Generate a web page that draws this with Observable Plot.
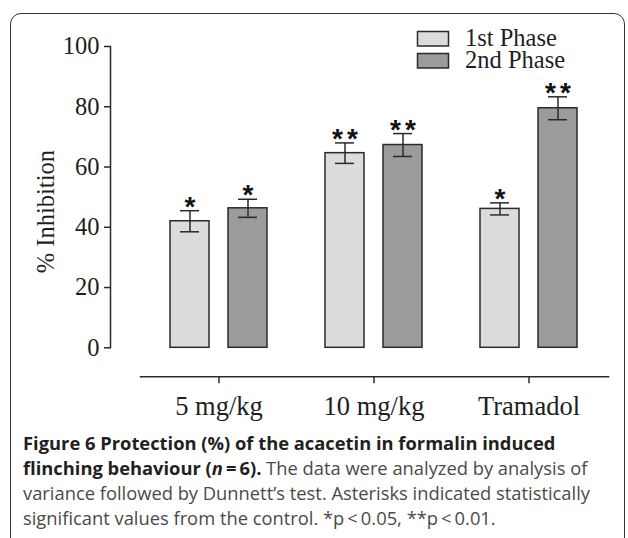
<!DOCTYPE html>
<html><head><meta charset="utf-8">
<script src="https://cdn.jsdelivr.net/npm/d3@7"></script>
<script src="https://cdn.jsdelivr.net/npm/@observablehq/plot@0.6"></script>
<style>
body{margin:0;background:#fff;width:628px;height:538px;overflow:hidden;position:relative;}
#frame{position:absolute;left:10px;top:12.5px;width:615px;height:600px;border:1.5px solid #333;border-radius:11px;box-sizing:border-box;}
#chart{position:absolute;left:0;top:0;}
#legend{position:absolute;left:0;top:0;}
#caption{position:absolute;left:23px;top:430px;font-family:"Open Sans";font-size:15.5px;line-height:25px;color:#4a4a4a;white-space:nowrap;}
#caption b{color:#231f20;font-weight:700;}
</style></head>
<body>
<div id="frame"></div>
<div id="chart"></div>
<div id="caption">
<div class="ln"><b>Figure 6 Protection (%) of the acacetin in formalin induced</b></div>
<div class="ln"><b>flinching behaviour (<i>n</i>&#8201;=&#8201;6).</b> The data were analyzed by analysis of</div>
<div class="ln" id="l3">variance followed by Dunnett’s test. Asterisks indicated statistically</div>
<div class="ln">significant values from the control. *p&#8201;&lt;&#8201;0.05, **p&#8201;&lt;&#8201;0.01.</div>
</div>
<script>
const groups = ["5 mg/kg", "10 mg/kg", "Tramadol"];
const phases = ["1st Phase", "2nd Phase"];
const phase1Mean = [42.0, 64.6, 46.1];
const phase1Err = [3.5, 3.4, 2.0];
const phase1Sig = ["*", "**", "*"];
const phase2Mean = [46.3, 67.3, 79.5];
const phase2Err = [3.0, 3.8, 3.8];
const phase2Sig = ["*", "**", "**"];
const yTicks = [0, 20, 40, 60, 80, 100];
const colors = ["#dcdcdc", "#9b9b9b"];

const rows1 = groups.map((g, i) => ({group: g, phase: phases[0], mean: phase1Mean[i], lo: phase1Mean[i] - phase1Err[i], hi: phase1Mean[i] + phase1Err[i], sig: phase1Sig[i]}));
const rows2 = groups.map((g, i) => ({group: g, phase: phases[1], mean: phase2Mean[i], lo: phase2Mean[i] - phase2Err[i], hi: phase2Mean[i] + phase2Err[i], sig: phase2Sig[i]}));

const off = 29;      // half distance between paired bars
const barInset = 58; // (band - barWidth)/2
const capInset = 68;
const ink = "#2a2a2a";

function series(rows, k) {
  const dx = k === 0 ? -off : off;
  return [
    Plot.barY(rows, {x: "group", y: "mean", fill: colors[k], stroke: ink, strokeWidth: 1.5, insetLeft: barInset, insetRight: barInset, dx}),
    Plot.ruleX(rows, {x: "group", y1: "lo", y2: "hi", stroke: ink, strokeWidth: 1.5, dx}),
    Plot.tickY(rows, {x: "group", y: "hi", stroke: ink, strokeWidth: 1.5, insetLeft: capInset, insetRight: capInset, dx}),
    Plot.tickY(rows, {x: "group", y: "lo", stroke: ink, strokeWidth: 1.5, insetLeft: capInset, insetRight: capInset, dx}),
    Plot.text(rows, {x: "group", y: "hi", text: "sig", dx: dx + 2, dy: 5, lineAnchor: "bottom", fontSize: 28, fontWeight: "bold", fontFamily: "Liberation Sans", fill: "#111"})
  ];
}

const chart = Plot.plot({
  width: 628,
  height: 425,
  marginLeft: 110,
  marginRight: 20,
  marginTop: 46,
  marginBottom: 48.7,
  style: {fontFamily: "'Liberation Serif', 'Times New Roman', serif", fontSize: "24.5px", color: "#1e1e1e", background: "transparent", overflow: "visible"},
  x: {domain: groups, range: [140, 606], padding: 0},
  y: {domain: [0, 100], range: [347.3, 46]},
  marks: [
    Plot.frame({anchor: "left", insetBottom: 29, stroke: ink, strokeWidth: 1.5}),
    Plot.frame({anchor: "bottom", insetLeft: 30, stroke: ink, strokeWidth: 1.5}),
    Plot.axisY({ticks: yTicks, tickSize: 6, tickPadding: 5, strokeWidth: 1.5, stroke: ink, label: "% Inhibition", labelAnchor: "center", labelOffset: 74, labelArrow: "none"}),
    Plot.axisX({tickSize: 7, tickPadding: 12, strokeWidth: 1.5, stroke: ink, fontSize: 26.5, label: null}),
    ...series(rows1, 0),
    ...series(rows2, 1)
  ]
});
d3.select(chart).selectAll("text").filter(function() { return /^\*+$/.test(this.textContent); }).attr("letter-spacing", "4px");
document.getElementById("chart").appendChild(chart);

// legend
const leg = d3.select("body").append("svg").attr("id", "legend").attr("width", 628).attr("height", 90);
const lg = leg.selectAll("g").data(phases).join("g").attr("transform", (d, i) => `translate(417.5,${31.5 + i * 22})`);
lg.append("rect").attr("width", 31).attr("height", 14.5).attr("fill", (d, i) => colors[i]).attr("stroke", ink).attr("stroke-width", 1.5);
lg.append("text").attr("x", 47.5).attr("y", 14.2).text(d => d).attr("font-family", "'Liberation Serif', serif").attr("font-size", 24.5).attr("fill", "#1e1e1e");

// fit caption font size to measured line width
const l3 = document.getElementById("l3");
const span = document.createElement("span");
span.textContent = l3.textContent; l3.textContent = ""; l3.appendChild(span);
const w = span.getBoundingClientRect().width;
const cap = document.getElementById("caption");
cap.style.fontSize = (15.5 * 567 / w).toFixed(2) + "px";
</script>
</body></html>
